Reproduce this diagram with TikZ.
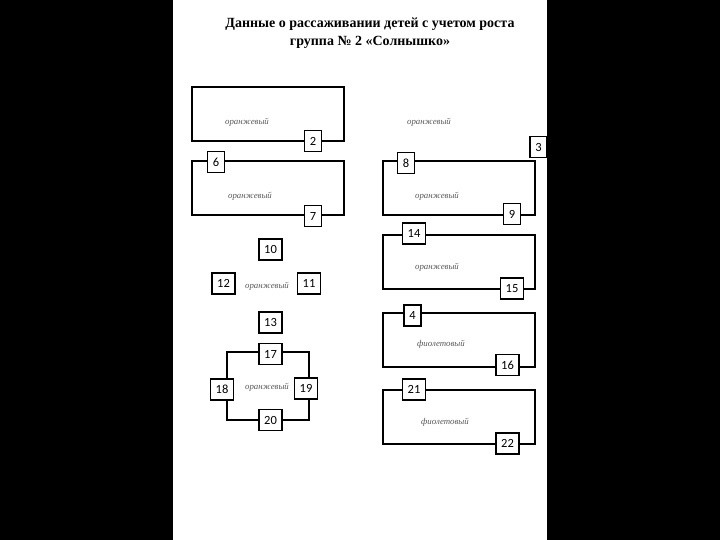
\documentclass[tikz,border=0pt]{standalone}
\usepackage{fontspec}
\setmainfont{Liberation Serif}
\newfontfamily\cifras{Carlito}
\begin{document}
\begin{tikzpicture}[
        x=1pt, y=-1pt,
        mesa/.style={draw, line width=1.4pt, minimum width=152pt, minimum height=54pt, inner sep=0pt},
        silla/.style={draw, fill=white, line width=1.4pt, font=\cifras\fontsize{12.5}{12.5}\selectfont, minimum width=16pt, minimum height=21pt, inner xsep=5.3pt, inner ysep=0pt},
        etiqueta/.style={font=\itshape\fontsize{8.8}{8.8}\selectfont, text=black!65}
    ]

    % Fondo
    \fill[black] (0,0) rectangle (720,540);
    \fill[white] (173,0) rectangle (547,540);

    % Titulo
    \node[font=\bfseries\fontsize{14}{18}\selectfont, align=center] (titulo) at (370,33)
        {Данные о рассаживании детей с учетом роста\\группа № 2 «Солнышко»};

    % Mesas izquierda
    \node[mesa] (mesa1) at (268,114) {};
    \node[mesa] (mesa2) at (268,188) {};
    \node[mesa, minimum width=82pt, minimum height=68pt] (mesaRedonda) at (268,386) {};

    % Mesas derecha
    \node[mesa] (mesa3) at (459,188) {};
    \node[mesa] (mesa4) at (459,262) {};
    \node[mesa] (mesa5) at (459,340) {};
    \node[mesa] (mesa6) at (459,417) {};

    % Etiquetas
    \node[etiqueta] (etiqueta1) at (247,122) {оранжевый};
    \node[etiqueta] (etiqueta2) at (250,196) {оранжевый};
    \node[etiqueta] (etiqueta3) at (429,122) {оранжевый};
    \node[etiqueta] (etiqueta4) at (437,196) {оранжевый};
    \node[etiqueta] (etiqueta5) at (267,286) {оранжевый};
    \node[etiqueta] (etiqueta6) at (437,267) {оранжевый};
    \node[etiqueta] (etiqueta7) at (267,387) {оранжевый};
    \node[etiqueta] (etiqueta8) at (441,344) {фиолетовый};
    \node[etiqueta] (etiqueta9) at (445,422) {фиолетовый};

    % Sillas
    \node[silla] (silla2) at (313,141) {2};
    \node[silla] (silla6) at (216,162) {6};
    \node[silla] (silla7) at (313,216) {7};
    \node[silla] (silla3) at (538.5,147) {3};
    \node[silla] (silla8) at (406,163) {8};
    \node[silla] (silla9) at (512,214) {9};
    \node[silla] (silla10) at (270.5,249.5) {10};
    \node[silla] (silla12) at (223.5,283.5) {12};
    \node[silla] (silla11) at (309,283.5) {11};
    \node[silla] (silla13) at (270.5,322.5) {13};
    \node[silla] (silla17) at (270.5,354) {17};
    \node[silla] (silla18) at (222,389.5) {18};
    \node[silla] (silla19) at (306,388.5) {19};
    \node[silla] (silla20) at (270.5,420) {20};
    \node[silla] (silla14) at (414,233.5) {14};
    \node[silla] (silla15) at (512,288.5) {15};
    \node[silla] (silla4) at (412.5,315.5) {4};
    \node[silla] (silla16) at (507.5,365) {16};
    \node[silla] (silla21) at (414,389.5) {21};
    \node[silla] (silla22) at (507.5,443.5) {22};
\end{tikzpicture}
\end{document}
